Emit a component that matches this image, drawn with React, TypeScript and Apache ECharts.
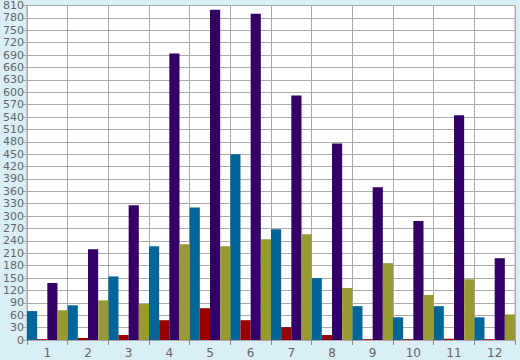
import React, { useEffect, useRef } from "react";
import * as echarts from "echarts";

const categories = ["1", "2", "3", "4", "5", "6", "7", "8", "9", "10", "11", "12"];
const blueSeries = [70, 84, 154, 227, 321, 450, 268, 150, 82, 55, 82, 55];
const redSeries = [2, 5, 12, 48, 77, 48, 31, 12, 2, 2, 3, 2];
const purpleSeries = [138, 220, 326, 694, 800, 790, 592, 476, 370, 288, 544, 198];
const oliveSeries = [72, 96, 87, 232, 227, 244, 256, 126, 186, 109, 147, 62];

export default function App() {
  const ref = useRef<HTMLDivElement>(null);
  useEffect(() => {
    if (!ref.current) return;
    const chart = echarts.init(ref.current, undefined, { renderer: "svg" });
    const mk = (name: string, data: number[], color: string) => ({
      name,
      type: "bar",
      data,
      itemStyle: { color },
      barGap: "0%",
      barCategoryGap: "0%",
    });
    chart.setOption({
      animation: false,
      backgroundColor: "#d9eef6",
      grid: {
        left: 26,
        right: 5,
        top: 5,
        bottom: 20,
        show: true,
        backgroundColor: "#ffffff",
        borderColor: "#aaaaaa",
        borderWidth: 1,
      },
      xAxis: {
        type: "category",
        data: categories,
        boundaryGap: true,
        axisLine: { show: true, lineStyle: { color: "#aaaaaa" } },
        axisTick: { show: true, length: 5, lineStyle: { color: "#888888" } },
        splitLine: { show: true, lineStyle: { color: "#aaaaaa", width: 1 } },
        axisLabel: { color: "#666666", fontSize: 12, fontFamily: "DejaVu Sans", margin: 7 },
      },
      yAxis: {
        type: "value",
        min: 0,
        max: 810,
        interval: 30,
        axisLine: { show: true, lineStyle: { color: "#aaaaaa" } },
        axisTick: { show: true, length: 4, lineStyle: { color: "#aaaaaa" } },
        splitLine: { show: true, lineStyle: { color: "#aaaaaa", width: 1 } },
        axisLabel: { color: "#666666", fontSize: 11, fontFamily: "DejaVu Sans", margin: 3 },
      },
      series: [
        mk("A", blueSeries, "#006699"),
        mk("B", redSeries, "#990000"),
        mk("C", purpleSeries, "#330066"),
        mk("D", oliveSeries, "#999933"),
      ],
    });
    return () => chart.dispose();
  }, []);
  return (
    <div
      ref={ref}
      style={{ position: "fixed", left: 0, top: 0, width: 520, height: 360 }}
    />
  );
}
